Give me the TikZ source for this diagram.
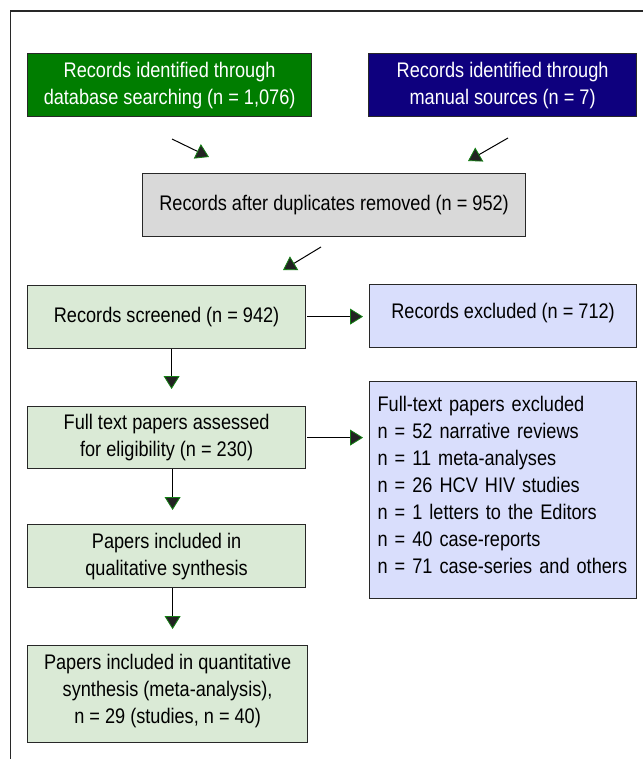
\documentclass[tikz,border=0pt]{standalone}
\usepackage{fontspec}
\setmainfont[FakeStretch=0.86]{Liberation Sans}
\usetikzlibrary{arrows.meta,calc}
\definecolor{dbgreen}{RGB}{0,125,0}
\definecolor{navy}{RGB}{14,0,126}
\definecolor{dupgray}{RGB}{217,217,217}
\definecolor{lightgreen}{RGB}{218,234,214}
\definecolor{lavender}{RGB}{217,222,252}
\definecolor{tipfill}{RGB}{34,34,34}
\definecolor{tipgreen}{RGB}{20,130,20}
\definecolor{edge}{RGB}{40,40,40}
\begin{document}
\begin{tikzpicture}[x=1pt,y=-1pt,
  box/.style={draw=edge,line width=1.2pt,rectangle,anchor=north west,inner sep=0pt,
    align=center,font=\fontsize{21.1}{27}\selectfont},
  flow/.style={draw=black,line width=1pt,
    -{Triangle[length=13pt,width=16pt,fill=tipfill,color=tipgreen,line width=0.8pt]}}]
\useasboundingbox (0,0) rectangle (643,759);
\fill[white] (0,0) rectangle (643,759);
% frame
\draw[edge,line width=1.4pt] (10.5,759) -- (10.5,11) -- (643,11);
% boxes
\node[box,fill=dbgreen,text=white,minimum width=284pt,minimum height=63pt] (db) at (27,53)
  {Records identified through\\database searching (n = 1,076)};
\node[box,fill=navy,text=white,minimum width=268pt,minimum height=63pt] (man) at (368,53)
  {Records identified through\\manual sources (n = 7)};
\node[box,fill=dupgray,minimum width=383pt,minimum height=63pt] (dup) at (142,173)
  {Records after duplicates removed (n = 952)};
\node[box,fill=lightgreen,minimum width=278pt,minimum height=63pt] (scr) at (27,285)
  {Records screened (n = 942)};
\node[box,fill=lavender,minimum width=267pt,minimum height=63pt] (exc) at (369,284)
  {Records excluded (n = 712)\rule[-11pt]{0pt}{1pt}};
\node[box,fill=lightgreen,minimum width=278pt,minimum height=62pt] (full) at (27,406)
  {Full text papers assessed\\for eligibility (n = 230)};
\node[box,fill=lavender,minimum width=267pt,minimum height=217pt,inner xsep=8pt,
  text width=251pt,align=left] (fexc) at (369,381)
  {Full-text papers excluded\\
   n = 52 narrative reviews\\
   n = 11 meta-analyses\\
   n = 26 HCV HIV studies\\
   n = 1 letters to the Editors\\
   n = 40 case-reports\\
   n = 71 case-series and others\rule[-10pt]{0pt}{1pt}};
\node[box,fill=lightgreen,minimum width=278pt,minimum height=63pt] (qual) at (27,524)
  {Papers included in\\qualitative synthesis};
\node[box,fill=lightgreen,minimum width=280pt,minimum height=97pt] (quant) at (27,645)
  {Papers included in quantitative\\synthesis (meta-analysis),\\n = 29 (studies, n = 40)\rule[-11pt]{0pt}{1pt}};
% free arrow ends
\coordinate (d1s) at (172,139);
\coordinate (d1e) at (209,157);
\coordinate (d2s) at (508,138);
\coordinate (d2e) at (468,161);
\coordinate (d3s) at (321,247);
\coordinate (d3e) at (283,270);
% connectors
\draw[flow] (d1s) -- (d1e);
\draw[flow] (d2s) -- (d2e);
\draw[flow] (d3s) -- (d3e);
\draw[flow,shorten <=1pt,shorten >=6pt] ([yshift=0.5pt]scr.east) -- ([yshift=0.5pt]scr.east -| exc.west);
\draw[flow,shorten <=1pt,shorten >=6pt] (full.east) -- (full.east -| fexc.west);
\draw[flow,shorten >=17pt] ([xshift=5pt]scr.south) -- ([xshift=5pt]scr.south |- full.north);
\draw[flow,shorten >=14pt] ([xshift=6pt]full.south) -- ([xshift=6pt]full.south |- qual.north);
\draw[flow,shorten >=16pt] ([xshift=6pt]qual.south) -- ([xshift=6pt]qual.south |- quant.north);
\end{tikzpicture}
\end{document}
